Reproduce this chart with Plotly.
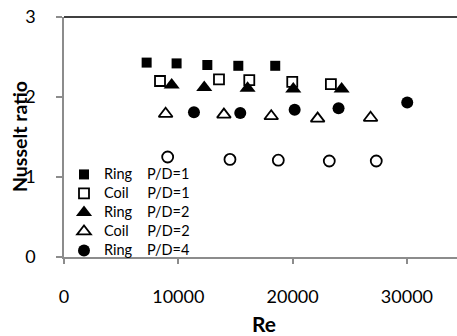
import plotly.graph_objects as go

# Data
re_ring1 = [7230, 9850, 12540, 15250, 18480]
nu_ring1 = [2.43, 2.42, 2.40, 2.39, 2.39]

re_coil1 = [8400, 13560, 16210, 19970, 23350]
nu_coil1 = [2.20, 2.22, 2.21, 2.19, 2.16]

re_ring2 = [9420, 12270, 16060, 20060, 24290]
nu_ring2 = [2.15, 2.12, 2.11, 2.10, 2.10]

re_coil2 = [8890, 13990, 18130, 22190, 26820]
nu_coil2 = [1.79, 1.78, 1.76, 1.73, 1.74]

re_ring4 = [11370, 15420, 20180, 24020, 30030]
nu_ring4 = [1.81, 1.80, 1.84, 1.86, 1.93]

re_open = [9070, 14520, 18750, 23210, 27320]
nu_open = [1.25, 1.22, 1.21, 1.20, 1.20]

x_ticks = [0, 10000, 20000, 30000]
y_ticks = [0, 1, 2, 3]

NB = "\u00a0"
def lab(a, b, pad):
    return "<span style='font-size:14.5px'>" + a + NB * pad + b + "</span>"

fig = go.Figure()
fig.add_trace(go.Scatter(x=re_ring1, y=nu_ring1, mode="markers", name=lab("Ring", "P/D=1", 4),
                         marker=dict(symbol="square", size=10, color="black")))
fig.add_trace(go.Scatter(x=re_coil1, y=nu_coil1, mode="markers", name=lab("Coil", "P/D=1", 5),
                         marker=dict(symbol="square", size=10, color="white", line=dict(color="black", width=1.8))))
fig.add_trace(go.Scatter(x=re_ring2, y=nu_ring2, mode="markers", name=lab("Ring", "P/D=2", 4),
                         marker=dict(symbol="triangle-up", size=14, color="black")))
fig.add_trace(go.Scatter(x=re_coil2, y=nu_coil2, mode="markers", name=lab("Coil", "P/D=2", 5),
                         marker=dict(symbol="triangle-up", size=12, color="white", line=dict(color="black", width=1.8))))
fig.add_trace(go.Scatter(x=re_ring4, y=nu_ring4, mode="markers", name=lab("Ring", "P/D=4", 4),
                         marker=dict(symbol="circle", size=12, color="black")))
fig.add_trace(go.Scatter(x=re_open, y=nu_open, mode="markers", showlegend=False,
                         marker=dict(symbol="circle", size=11, color="white", line=dict(color="black", width=1.8))))

axis_grey = "#8c8c8c"
fig.update_layout(
    width=457, height=336,
    margin=dict(l=64, r=0, t=17, b=79, autoexpand=False),
    paper_bgcolor="white", plot_bgcolor="white",
    font=dict(family="Lato, sans-serif", color="black"),
    showlegend=True,
    legend=dict(x=0.0, y=-0.033, xanchor="left", yanchor="bottom",
                bgcolor="rgba(0,0,0,0)", font=dict(size=11, family="Lato, sans-serif"),
                itemwidth=30, tracegroupgap=0),
    xaxis=dict(range=[0, 34383], tickvals=x_ticks, ticktext=[str(v) for v in x_ticks],
               showgrid=False, zeroline=False, showline=True, linecolor=axis_grey, linewidth=1.5,
               ticks="outside", ticklen=5, tickcolor=axis_grey, tickwidth=1.5,
               tickfont=dict(size=18), ticklabelstandoff=18, automargin=False),
    yaxis=dict(range=[0, 3], tickvals=y_ticks, ticktext=[str(v) for v in y_ticks],
               showgrid=False, zeroline=False, showline=True, linecolor=axis_grey, linewidth=1.5,
               ticks="outside", ticklen=6, tickcolor=axis_grey, tickwidth=1.5,
               tickfont=dict(size=18), ticklabelstandoff=17, automargin=False),
    annotations=[
        dict(text="<b>Nusselt ratio</b>", xref="paper", yref="paper", x=0, y=0.5,
             xanchor="center", yanchor="middle", xshift=-45, textangle=-90,
             showarrow=False, font=dict(size=19.5)),
        dict(text="<b>Re</b>", xref="paper", yref="paper", x=0.5, y=0,
             xanchor="center", yanchor="middle", xshift=3, yshift=-66,
             showarrow=False, font=dict(size=21)),
    ],
)
fig.add_shape(type="line", xref="paper", yref="paper", x0=0, x1=1, y0=1, y1=1,
              line=dict(color="black", width=1.5))

# remove the browser's default 8px body margin so the figure fills the window exactly
fig.write_html("out.html", config={"displayModeBar": False},
               post_script="document.body.style.margin='0';document.body.style.overflow='hidden';")
